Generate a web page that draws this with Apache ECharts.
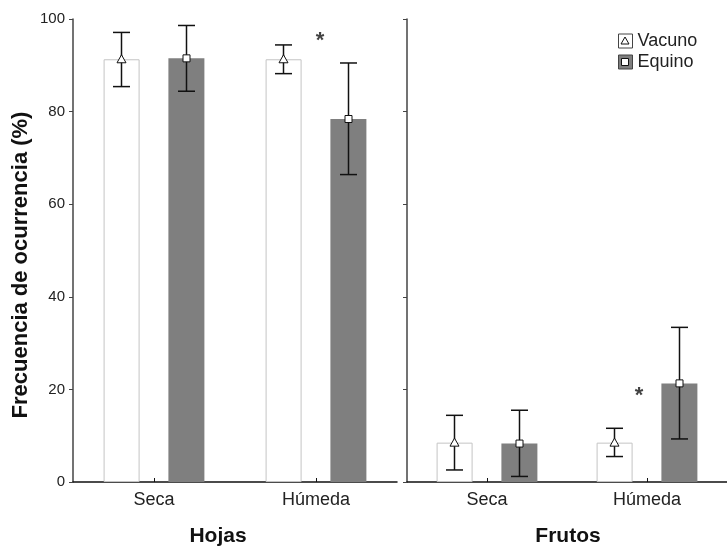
<!DOCTYPE html>
<html>
<head>
<meta charset="utf-8">
<script src="https://cdn.jsdelivr.net/npm/echarts@6/dist/echarts.min.js"></script>
<style>html,body{margin:0;padding:0;background:#fff}#c{width:727px;height:547px}</style>
</head>
<body>
<div id="c"></div>
<script>
// ---- data ----
const categories = ['Seca', 'Húmeda'];
const yTicks = [0, 20, 40, 60, 80, 100];
// Hojas
const hojasVacuno = [91.3, 91.3];
const hojasVacunoLow = [85.4, 88.2];
const hojasVacunoHigh = [97.1, 94.4];
const hojasEquino = [91.5, 78.4];
const hojasEquinoLow = [84.4, 66.4];
const hojasEquinoHigh = [98.6, 90.5];
// Frutos
const frutosVacuno = [8.5, 8.5];
const frutosVacunoLow = [2.6, 5.5];
const frutosVacunoHigh = [14.4, 11.6];
const frutosEquino = [8.3, 21.3];
const frutosEquinoLow = [1.2, 9.3];
const frutosEquinoHigh = [15.5, 33.4];
// significance marks [categoryIndex, value]
const hojasSig = [[1, 95.7]];
const frutosSig = [[1, 19.2]];

const FONT = 'Liberation Sans, Arial, sans-serif';
const BAR_W = 36, BAR_OFF = 32.5;

function errData(mean, low, high) {
  return mean.map((m, i) => [i, low[i], high[i], m]);
}
function errSeries(name, gi, data, off, marker) {
  return {
    type: 'custom', name: name, xAxisIndex: gi, yAxisIndex: gi, z: 10,
    encode: { x: 0, y: [1, 2, 3] },
    data: data,
    renderItem: function (params, api) {
      const i = api.value(0);
      const pm = api.coord([i, api.value(3)]);
      const pl = api.coord([i, api.value(1)]);
      const ph = api.coord([i, api.value(2)]);
      const x = pm[0] + off;
      const cw = 8.5;
      const ls = { stroke: '#111', lineWidth: 1.5 };
      const ch = [
        { type: 'line', shape: { x1: x, y1: ph[1], x2: x, y2: pl[1] }, style: ls },
        { type: 'line', shape: { x1: x - cw, y1: ph[1], x2: x + cw, y2: ph[1] }, style: ls },
        { type: 'line', shape: { x1: x - cw, y1: pl[1], x2: x + cw, y2: pl[1] }, style: ls }
      ];
      if (marker === 'tri') {
        ch.push({ type: 'polygon', shape: { points: [[x, pm[1] - 4.5], [x + 4.5, pm[1] + 3.5], [x - 4.5, pm[1] + 3.5]] },
          style: { fill: '#fff', stroke: '#111', lineWidth: 1 } });
      } else {
        ch.push({ type: 'rect', shape: { x: x - 3.5, y: pm[1] - 3.5, width: 7, height: 7 },
          style: { fill: '#fff', stroke: '#111', lineWidth: 1 } });
      }
      return { type: 'group', children: ch };
    }
  };
}
function barSeries(name, gi, data) {
  const vac = name === 'Vacuno';
  return {
    type: 'bar', name: name, xAxisIndex: gi, yAxisIndex: gi, data: data,
    barWidth: BAR_W, barGap: '80%',
    itemStyle: vac ? { color: '#ffffff', borderColor: '#c4c4c4', borderWidth: 1 } : { color: '#7f7f7f', borderColor: '#7a7a7a', borderWidth: 0 },
    emphasis: { disabled: true }
  };
}
function sigSeries(gi, data, dx, dy) {
  return {
    type: 'scatter', xAxisIndex: gi, yAxisIndex: gi, data: data, symbolSize: 1,
    itemStyle: { color: 'rgba(0,0,0,0)' }, z: 12,
    label: { show: true, formatter: '*', position: 'inside', offset: [dx, dy],
      fontSize: 22, fontWeight: 'bold', color: '#111', fontFamily: FONT }
  };
}
function xAx(gi) {
  return {
    type: 'category', gridIndex: gi, data: categories,
    axisLine: { lineStyle: { color: '#111', width: 1.5 } },
    axisTick: { show: true, inside: true, alignWithLabel: true, length: 4, lineStyle: { color: '#111' } },
    axisLabel: { fontSize: 18, color: '#222', margin: 9, fontFamily: FONT }
  };
}
function yAx(gi, showLabels) {
  return {
    type: 'value', gridIndex: gi, min: 0, max: 100, interval: 20,
    axisLine: { show: true, lineStyle: { color: '#444', width: 1.5 } },
    axisTick: { show: true, length: 4, lineStyle: { color: '#444' } },
    splitLine: { show: false },
    axisLabel: { show: showLabels, fontSize: 15, color: '#222', margin: 8, fontFamily: FONT,
      formatter: function (v) { return yTicks.indexOf(v) >= 0 ? String(v) : ''; } }
  };
}

const chart = echarts.init(document.getElementById('c'), null, { renderer: 'canvas' });
chart.setOption({
  animation: false,
  backgroundColor: '#fff',
  textStyle: { fontFamily: FONT },
  grid: [
    { left: 73, top: 19, width: 324, height: 463 },
    { left: 407, top: 19, width: 323, height: 463 }
  ],
  xAxis: [xAx(0), xAx(1)],
  yAxis: [yAx(0, true), yAx(1, false)],
  legend: {
    orient: 'vertical', left: 618, top: 32, itemWidth: 14, itemHeight: 14, itemGap: 3, padding: 0,
    textStyle: { fontSize: 18, color: '#222', fontFamily: FONT, lineHeight: 18 },
    selectedMode: false,
    data: [
      { name: 'Vacuno', icon: 'rect', itemStyle: { color: '#fff', borderColor: '#444', borderWidth: 1 } },
      { name: 'Equino', icon: 'rect', itemStyle: { color: '#7f7f7f', borderColor: '#444', borderWidth: 1 } }
    ]
  },
  graphic: [
    { type: 'text', x: 21, y: 265, rotation: Math.PI / 2,
      style: { text: 'Frecuencia de ocurrencia (%)', font: 'bold 22px ' + FONT, fill: '#111', align: 'center', verticalAlign: 'middle' } },
    { type: 'text', x: 218, y: 536,
      style: { text: 'Hojas', font: 'bold 21px ' + FONT, fill: '#111', align: 'center', verticalAlign: 'middle' } },
    { type: 'text', x: 568, y: 536,
      style: { text: 'Frutos', font: 'bold 21px ' + FONT, fill: '#111', align: 'center', verticalAlign: 'middle' } },
    { type: 'polygon', z: 100, shape: { points: [[625, 37], [629, 44], [621, 44]] },
      style: { fill: '#fff', stroke: '#111', lineWidth: 1 } },
    { type: 'rect', z: 100, shape: { x: 621.5, y: 58.5, width: 7, height: 7 },
      style: { fill: '#fff', stroke: '#111', lineWidth: 1 } }
  ],
  series: [
    barSeries('Vacuno', 0, hojasVacuno),
    barSeries('Equino', 0, hojasEquino),
    barSeries('Vacuno', 1, frutosVacuno),
    barSeries('Equino', 1, frutosEquino),
    errSeries('Vacuno', 0, errData(hojasVacuno, hojasVacunoLow, hojasVacunoHigh), -BAR_OFF, 'tri'),
    errSeries('Equino', 0, errData(hojasEquino, hojasEquinoLow, hojasEquinoHigh), BAR_OFF, 'sq'),
    errSeries('Vacuno', 1, errData(frutosVacuno, frutosVacunoLow, frutosVacunoHigh), -BAR_OFF, 'tri'),
    errSeries('Equino', 1, errData(frutosEquino, frutosEquinoLow, frutosEquinoHigh), BAR_OFF, 'sq'),
    sigSeries(0, hojasSig, 4, 2),
    sigSeries(1, frutosSig, -8, 3)
  ]
});
</script>
</body>
</html>
